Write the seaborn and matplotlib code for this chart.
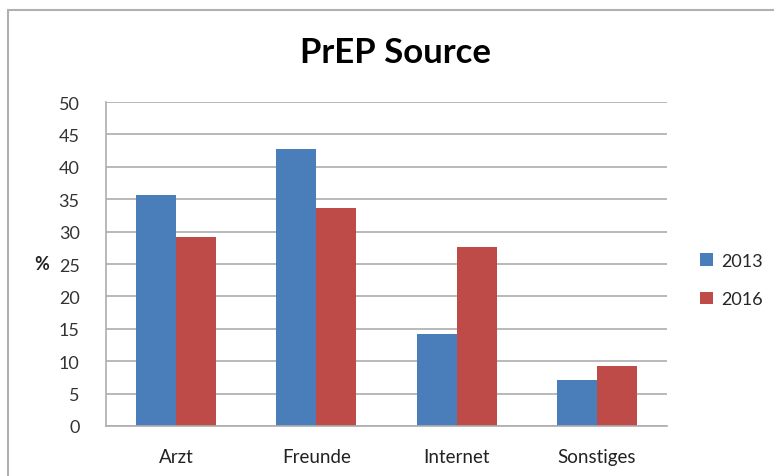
import matplotlib
matplotlib.use("Agg")
import matplotlib.pyplot as plt
import seaborn as sns
import pandas as pd
from matplotlib.lines import Line2D

categories = ["Arzt", "Freunde", "Internet", "Sonstiges"]
years = ["2013", "2016"]
values_2013 = [35.7, 42.8, 14.2, 7.1]
values_2016 = [29.2, 33.7, 27.7, 9.2]
yticks = [0, 5, 10, 15, 20, 25, 30, 35, 40, 45, 50]

df = pd.DataFrame({
    "Kategorie": categories * 2,
    "Jahr": [years[0]] * 4 + [years[1]] * 4,
    "Wert": values_2013 + values_2016,
})

sns.set_theme(style="white")
plt.rcParams["font.family"] = ["Lato", "DejaVu Sans"]

W, H = 774, 477
fig = plt.figure(figsize=(W / 100, H / 100), dpi=100)
fig.patch.set_facecolor("white")

left, right, top, bottom = 106, 667, 103, 427
ax = fig.add_axes([left / W, (H - bottom) / H, (right - left) / W, (bottom - top) / H])

palette = {"2013": "#4A7EBB", "2016": "#BE4B48"}
sns.barplot(data=df, x="Kategorie", y="Wert", hue="Jahr", palette=palette,
            width=0.572, saturation=1, ax=ax, edgecolor="none", linewidth=0)

ax.set_xlim(-0.5, 3.5)
ax.set_ylim(0, 50)
ax.set_yticks(yticks)
ax.set_yticklabels([str(t) for t in yticks], fontsize=13, color="#333333")
ax.tick_params(axis="x", labelsize=13.5, colors="#333333", length=0, pad=16)
ax.tick_params(axis="y", length=0, pad=19)
for lbl in ax.get_xticklabels():
    lbl.set_color("#222222")
ax.set_xlabel("")
ax.set_ylabel("%", fontsize=13, fontweight="bold", rotation=0, color="#222222")
ax.yaxis.set_label_coords(-0.114, 0.5)
ax.yaxis.label.set_verticalalignment("center")

ax.grid(axis="y", color="#ADADAD", linewidth=1.2)
ax.set_axisbelow(True)
for side in ["top", "right"]:
    ax.spines[side].set_visible(False)
for side in ["left", "bottom"]:
    ax.spines[side].set_color("#ADADAD")
    ax.spines[side].set_linewidth(1.2)

fig.text(396 / W, 1 - 53 / H, "PrEP Source", ha="center", va="center",
         fontsize=25, fontweight="bold", color="black")

handles, labels = ax.get_legend_handles_labels()
ax.legend(handles, labels, loc="center left", bbox_to_anchor=(1.03, 0.45),
          frameon=False, fontsize=13, handlelength=0.7, handleheight=0.7,
          handletextpad=0.45, labelspacing=1.25)

fig.add_artist(Line2D([8 / W, 1], [1 - 11 / H, 1 - 11 / H], transform=fig.transFigure,
                      color="#B0B0B0", linewidth=1.5))
fig.add_artist(Line2D([8 / W, 8 / W], [0, 1 - 11 / H], transform=fig.transFigure,
                      color="#B0B0B0", linewidth=1.5))

fig.savefig("out.png", dpi=100)
